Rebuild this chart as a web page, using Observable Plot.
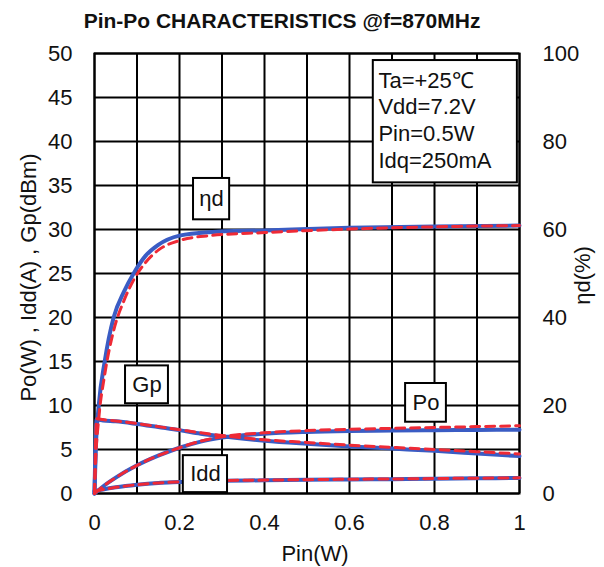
<!DOCTYPE html>
<html><head><meta charset="utf-8">
<script src="https://cdn.jsdelivr.net/npm/d3@7"></script>
<script src="https://cdn.jsdelivr.net/npm/@observablehq/plot@0.6"></script>
<style>
body{margin:0;background:#fff;font-family:"Liberation Sans",Arial,sans-serif;}
#chart svg{display:block;}
</style></head>
<body><div id="chart"></div>
<script>
// Pin (W) sample points for Po, Gp, Idd
const pin = [0, 0.005, 0.02, 0.05, 0.1, 0.15, 0.2, 0.25, 0.3, 0.4, 0.5, 0.6, 0.7, 0.8, 0.9, 1.0];
const poBlue  = [0, 0.2, 0.8, 1.8, 3.2, 4.3, 5.2, 5.9, 6.35, 6.8, 7.0, 7.1, 7.15, 7.2, 7.22, 7.25];
const poRed   = [0, 0.2, 0.8, 1.8, 3.2, 4.3, 5.2, 5.95, 6.45, 6.9, 7.15, 7.3, 7.4, 7.5, 7.6, 7.7];
const gpBlue  = [0, 8.4, 8.3, 8.2, 7.9, 7.55, 7.2, 6.8, 6.5, 6.0, 5.65, 5.35, 5.1, 4.85, 4.55, 4.25];
const gpRed   = [0, 8.5, 8.4, 8.25, 7.95, 7.6, 7.25, 6.9, 6.6, 6.1, 5.8, 5.5, 5.25, 5.0, 4.75, 4.5];
const iddBlue = [0.25, 0.3, 0.45, 0.7, 1.0, 1.2, 1.3, 1.4, 1.45, 1.5, 1.55, 1.6, 1.63, 1.68, 1.72, 1.77];
const iddRed  = [0.25, 0.3, 0.45, 0.7, 1.0, 1.2, 1.32, 1.42, 1.47, 1.52, 1.57, 1.62, 1.65, 1.7, 1.74, 1.78];
// drain efficiency (%), right axis
const pinEta  = [0, 0.003, 0.01, 0.024, 0.045, 0.07, 0.092, 0.12, 0.15, 0.2, 0.27, 0.4, 0.6, 0.8, 1.0];
const etaBlue = [0, 10, 20, 30, 40, 46, 50, 54, 56.5, 58.6, 59.4, 59.8, 60.4, 60.7, 60.9];
const etaRed  = [0, 8, 17, 27, 37, 44, 48.5, 52.5, 55.3, 57.5, 58.6, 59.3, 60.1, 60.6, 60.9];

const xTicks = [0, 0.2, 0.4, 0.6, 0.8, 1];
const yTicksLeft = [0, 5, 10, 15, 20, 25, 30, 35, 40, 45, 50];
const yTicksRight = [0, 20, 40, 60, 80, 100];
const conditions = ["Ta=+25℃", "Vdd=7.2V", "Pin=0.5W", "Idq=250mA"];
const title = "Pin-Po CHARACTERISTICS @f=870MHz";

const mk = (xs, ys, k = 1) => xs.map((x, i) => ({x, y: ys[i] / k}));
const series = [
  {blue: mk(pin, poBlue), red: mk(pin, poRed)},
  {blue: mk(pin, gpBlue), red: mk(pin, gpRed)},
  {blue: mk(pin, iddBlue), red: mk(pin, iddRed)},
  {blue: mk(pinEta, etaBlue, 2), red: mk(pinEta, etaRed, 2)}
];

const BLUE = "#3a5cc4", RED = "#ee2a36";
const FS = 22;
const lineMarks = [];
for (const s of series) {
  lineMarks.push(Plot.line(s.blue, {x: "x", y: "y", stroke: BLUE, strokeWidth: 4, curve: "monotone-x"}));
}
for (const s of series) {
  lineMarks.push(Plot.line(s.red, {x: "x", y: "y", stroke: RED, strokeWidth: 3, strokeDasharray: "9,6", curve: "monotone-x"}));
}

const boxes = [
  {t: "ηd", x1: 0.233, x2: 0.318, y1: 31.1, y2: 35.8},
  {t: "Gp", x1: 0.073, x2: 0.174, y1: 10.2, y2: 14.5},
  {t: "Idd", x1: 0.209, x2: 0.313, y1: 0.1, y2: 4.3},
  {t: "Po", x1: 0.732, x2: 0.828, y1: 8.1, y2: 12.5}
];
const condBox = [{x1: 0.656, x2: 0.995, y1: 35.3, y2: 49.2}];
const condY = [46.9, 43.9, 40.9, 37.8];

const plot = Plot.plot({
  width: 604, height: 567,
  marginLeft: 94, marginRight: 85, marginTop: 53, marginBottom: 74,
  style: {fontFamily: '"Liberation Sans", Arial, sans-serif', fontSize: FS + "px", color: "#111", background: "#fff"},
  x: {domain: [0, 1]},
  y: {domain: [0, 50]},
  marks: [
    Plot.gridX(d3.range(0, 11).map(i => i / 10), {stroke: "#000", strokeOpacity: 1, strokeWidth: 2}),
    Plot.gridY(yTicksLeft, {stroke: "#000", strokeOpacity: 1, strokeWidth: 2}),
    Plot.frame({stroke: "#000", strokeWidth: 2}),
    Plot.axisX(xTicks, {tickSize: 0, tickPadding: 21, fontSize: FS, label: null, tickFormat: d => String(d)}),
    Plot.axisY(yTicksLeft, {anchor: "left", tickSize: 0, tickPadding: 22, fontSize: FS, label: null}),
    Plot.axisY(yTicksRight.map(d => d / 2), {anchor: "right", tickSize: 0, tickPadding: 23, fontSize: FS, label: null, tickFormat: d => String(d * 2)}),
    ...lineMarks,
    Plot.rect(boxes, {x1: "x1", x2: "x2", y1: "y1", y2: "y2", fill: "#fff", stroke: "#000", strokeWidth: 2}),
    Plot.text(boxes, {x: d => (d.x1 + d.x2) / 2, y: d => (d.y1 + d.y2) / 2, text: "t", fontSize: FS, fill: "#111"}),
    Plot.rect(condBox, {x1: "x1", x2: "x2", y1: "y1", y2: "y2", fill: "#fff", stroke: "#000", strokeWidth: 2}),
    Plot.text(conditions, {x: 0.668, y: (d, i) => condY[i], text: d => d, textAnchor: "start", fontSize: FS, fill: "#111"}),
    Plot.text([title], {frameAnchor: "top", dy: -40, dx: -25, text: d => d, textAnchor: "middle", fontSize: 21, fontWeight: "bold", fill: "#111"}),
    Plot.text(["Pin(W)"], {frameAnchor: "bottom", dy: 67, dx: 8, text: d => d, textAnchor: "middle", lineAnchor: "bottom", fontSize: FS, fill: "#111"}),
    Plot.text(["Po(W) , Idd(A) , Gp(dBm)"], {frameAnchor: "left", dx: -66, dy: 4, rotate: -90, textAnchor: "middle", lineAnchor: "middle", text: d => d, fontSize: FS, fill: "#111"}),
    Plot.text(["ηd(%)"], {frameAnchor: "right", dx: 63, dy: 2, rotate: -90, textAnchor: "middle", lineAnchor: "middle", text: d => d, fontSize: FS, fill: "#111"})
  ]
});
document.getElementById("chart").appendChild(plot);
</script>
</body></html>
